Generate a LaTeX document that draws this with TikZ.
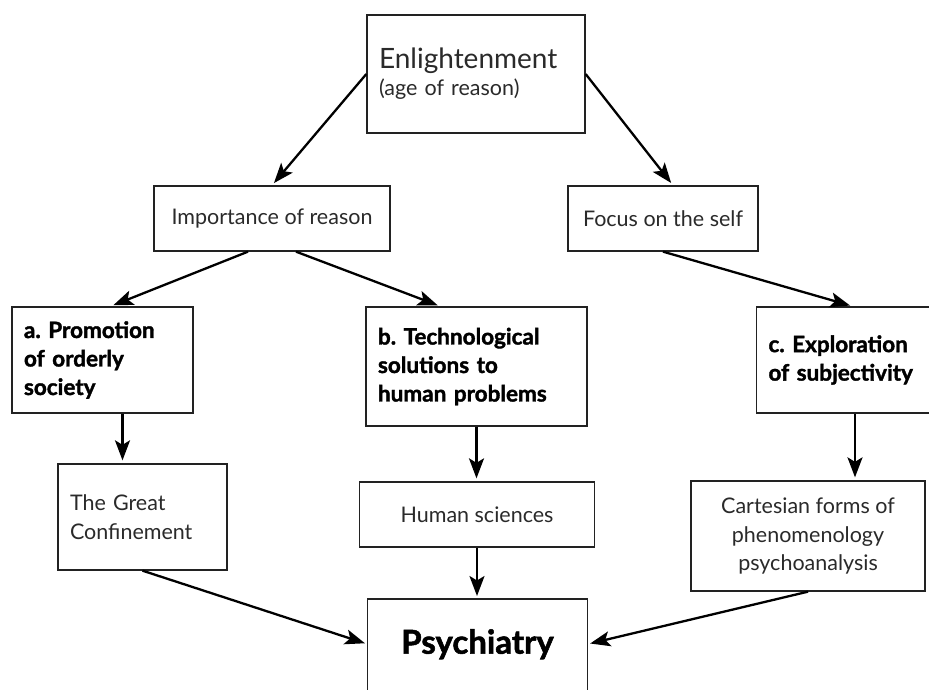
\documentclass[tikz,border=0pt]{standalone}
\usepackage{fontspec}
\setmainfont{Lato}
\newfontfamily\heavy{Lato}[BoldFeatures={FakeBold=1.6}]
\usetikzlibrary{arrows.meta}
\definecolor{ink}{HTML}{222222}
\definecolor{soft}{HTML}{2a2a2a}
\begin{document}
\begin{tikzpicture}[x=1pt,y=-1pt,
 box/.style={draw=ink, line width=1.3pt, rectangle, inner sep=0pt, text=soft},
 lbox/.style={box, align=left, inner xsep=12pt},
 cbox/.style={box, align=center},
 plain/.style={font=\fontsize{21.5}{28.5}\selectfont},
 strong/.style={font=\heavy\bfseries\fontsize{22.5}{28.5}\selectfont, text=black},
 arr/.style={-{Stealth[length=20pt,width=15pt,inset=4.5pt]}, line width=2.3pt, black, shorten >=3pt}]
\useasboundingbox[fill=white] (0,0) rectangle (929,689);
\node[lbox, minimum width=218pt, minimum height=118pt, text width=194pt, font=\fontsize{21.5}{27}\selectfont] (enl) at (476,74)
  {{\fontsize{28}{29}\selectfont Enlightenment}\\(age of reason)};
\node[cbox, plain, minimum width=236pt, minimum height=65pt] (imp) at (272,218.5) {Importance of reason};
\node[cbox, plain, minimum width=190pt, minimum height=65pt] (foc) at (663,218.5) {Focus on the self};
\node[lbox, strong, minimum width=181pt, minimum height=106pt, text width=157pt] (a) at (102.5,360)
  {a.~Promotion\\of orderly\\society};
\node[lbox, strong, minimum width=221pt, minimum height=119pt, text width=197pt] (b) at (476.5,366.5)
  {b.~Technological\\solutions to\\human problems};
\node[lbox, strong, minimum width=168pt, minimum height=106pt, text width=151pt] (c) at (844,360)
  {c.~Exploration\\of~subjectivity};
\node[lbox, plain, minimum width=169pt, minimum height=106pt, text width=145pt] (gc) at (142.5,517)
  {The Great\\Confinement};
\node[cbox, plain, minimum width=235pt, minimum height=65pt] (hs) at (477,514.5) {Human sciences};
\node[cbox, plain, minimum width=234pt, minimum height=110pt] (cart) at (808,536)
  {Cartesian forms of\\phenomenology\\psychoanalysis};
\node[anchor=north, minimum width=219pt, minimum height=90pt, inner sep=0pt, text=black,
  font=\heavy\bfseries\fontsize{33}{33}\selectfont] (psy) at (477.5,599) {Psychiatry};
\draw[ink, line width=1.3pt] ([yshift=-40pt]psy.south west) -- (psy.north west) -- (psy.north east) -- ([yshift=-40pt]psy.south east);
\draw[arr] (enl.west) -- (imp.north);
\draw[arr] (enl.east) -- ([xshift=10pt]foc.north);
\draw[arr] ([xshift=-24pt]imp.south) -- ([xshift=8pt]a.north);
\draw[arr] ([xshift=24pt]imp.south) -- ([xshift=-36pt]b.north);
\draw[arr] (foc.south) -- ([xshift=9pt]c.north);
\draw[arr] ([xshift=20pt]a.south) -- ([xshift=-20pt]gc.north);
\draw[arr] (b.south) -- (b.south |- hs.north);
\draw[arr] ([xshift=11pt]c.south) -- ([xshift=47pt]cart.north);
\draw[arr] (hs.south) -- (hs.south |- psy.north);
\draw[arr] (gc.south) -- (psy.west);
\draw[arr] (cart.south) -- (psy.east);
\end{tikzpicture}
\end{document}
